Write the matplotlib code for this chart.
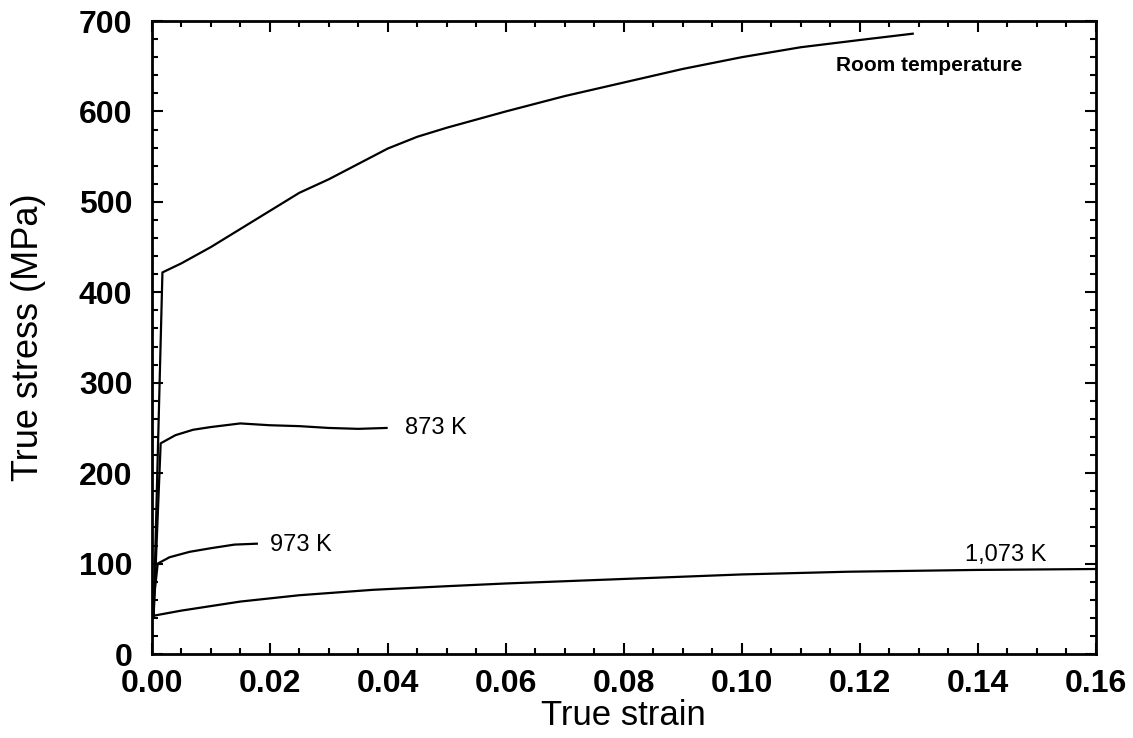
import matplotlib.pyplot as plt
from matplotlib.ticker import MultipleLocator

plt.rcParams['font.family'] = ['Liberation Sans', 'DejaVu Sans']

# curves (true strain, true stress MPa)
room_strain = [0.0003, 0.0018, 0.005, 0.01, 0.015, 0.02, 0.025, 0.03, 0.035, 0.04,
               0.045, 0.05, 0.06, 0.07, 0.08, 0.09, 0.10, 0.11, 0.12, 0.129]
room_stress = [40, 422, 432, 450, 470, 490, 510, 525, 542, 559,
               572, 582, 600, 617, 632, 647, 660, 671, 679, 686]

k873_strain = [0.0003, 0.0015, 0.004, 0.007, 0.01, 0.015, 0.02, 0.025, 0.03, 0.035, 0.0398]
k873_stress = [40, 233, 242, 248, 251, 255, 253, 252, 250, 249, 250]

k973_strain = [0.0, 0.001, 0.003, 0.0064, 0.01, 0.014, 0.0178]
k973_stress = [40, 100, 107, 113, 117, 121, 122]

k1073_strain = [0.0, 0.005, 0.015, 0.025, 0.0375, 0.05, 0.06, 0.08, 0.10, 0.118, 0.14, 0.16]
k1073_stress = [42, 48, 58, 65, 71, 75, 78, 83, 88, 91, 93, 94]

fig = plt.figure(figsize=(11.33, 7.38), dpi=100)
ax = fig.add_axes([0.134, 0.1138, 0.833, 0.8577])

for xs, ys in [(room_strain, room_stress), (k873_strain, k873_stress),
               (k973_strain, k973_stress), (k1073_strain, k1073_stress)]:
    ax.plot(xs, ys, color='black', lw=1.6)

ax.text(0.1160, 651, 'Room temperature', fontsize=15, fontweight='bold', va='center')
ax.text(0.0430, 250, '873 K', fontsize=17, va='center')
ax.text(0.0200, 121, '973 K', fontsize=17, va='center')
ax.text(0.1378, 109, '1,073 K', fontsize=17, va='center')

ax.set_xlim(0, 0.16)
ax.set_ylim(0, 700)
ax.xaxis.set_major_locator(MultipleLocator(0.02))
ax.xaxis.set_minor_locator(MultipleLocator(0.005))
ax.yaxis.set_major_locator(MultipleLocator(100))
ax.yaxis.set_minor_locator(MultipleLocator(20))
ax.set_xticks(ax.get_xticks())
ax.set_xticklabels([f'{v:.2f}' for v in ax.get_xticks()])
ax.set_xlim(0, 0.16)

ax.tick_params(which='both', direction='in', top=True, right=True, width=1.5)
ax.tick_params(which='major', length=8, labelsize=23)
ax.tick_params(axis='y', which='major', pad=14)
ax.tick_params(axis='x', which='major', pad=11)
ax.tick_params(which='minor', length=4)
for lab in ax.get_xticklabels() + ax.get_yticklabels():
    lab.set_fontweight('bold')
for sp in ax.spines.values():
    sp.set_linewidth(2)

ax.set_xlabel('True strain', fontsize=25, labelpad=0)
ax.set_ylabel('True stress (MPa)', fontsize=26, labelpad=24)

fig.savefig('out.png', dpi=100)
